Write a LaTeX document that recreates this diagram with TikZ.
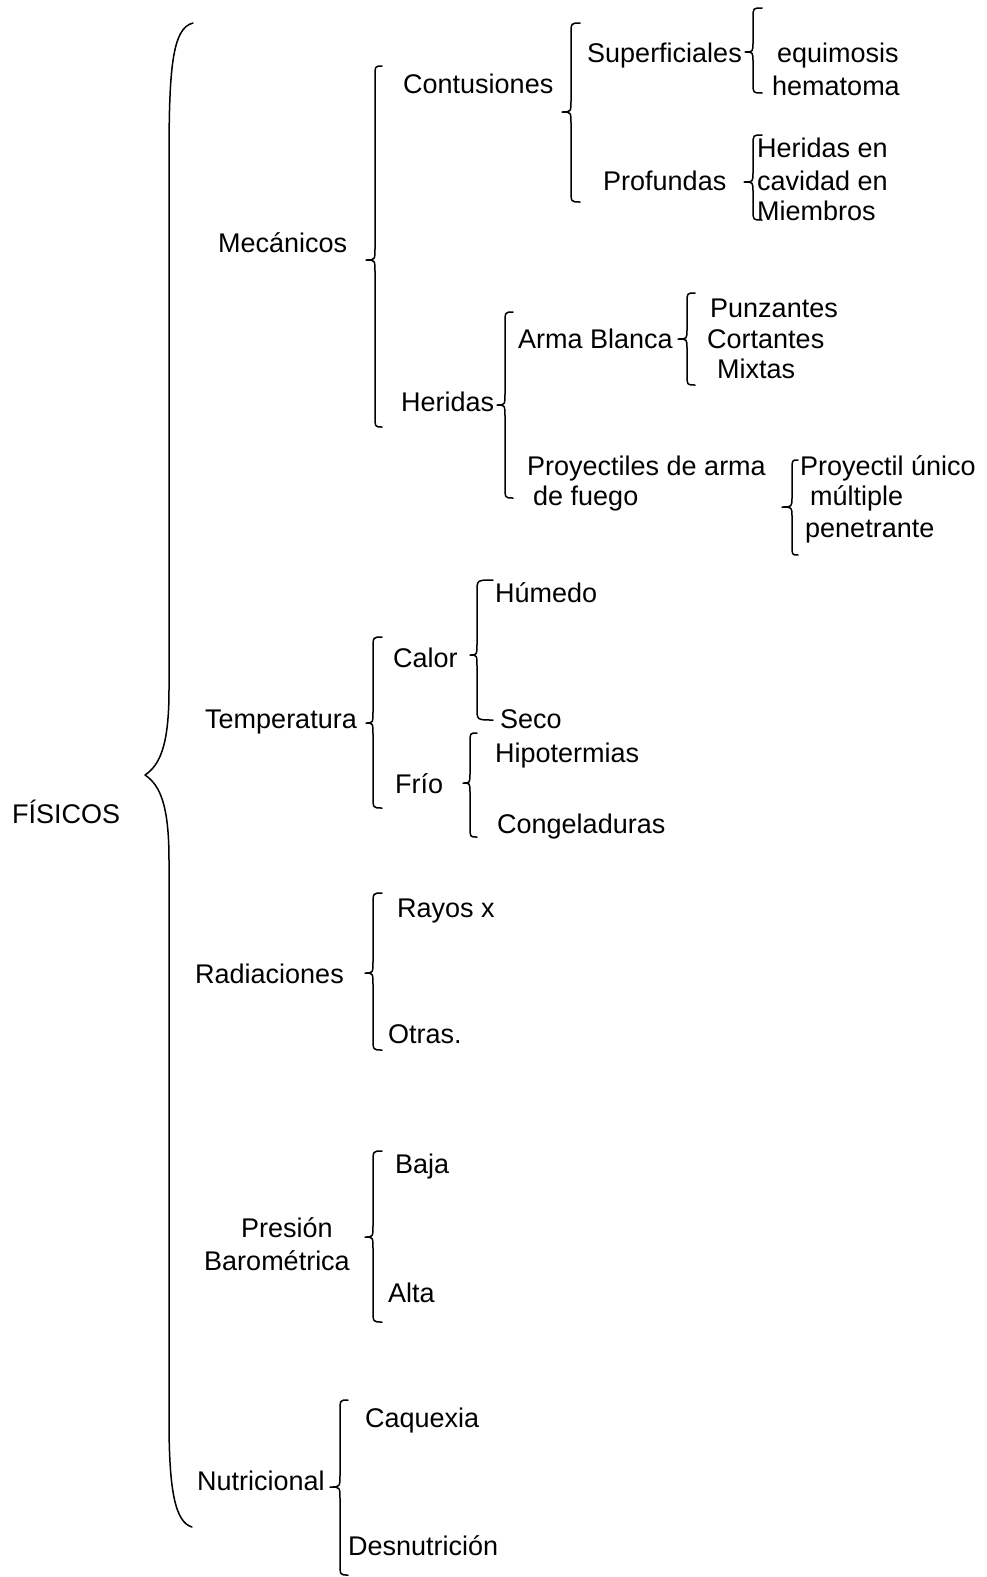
\documentclass[tikz,border=0pt]{standalone}
\usepackage{fontspec}
\setmainfont{Liberation Sans}
\tikzset{
  lbl/.style={anchor=base west, inner sep=0pt, font=\fontsize{27}{32}\selectfont},
  clbl/.style={anchor=base, inner sep=0pt, font=\fontsize{27}{32}\selectfont},
  bracestyle/.style={draw=black, line width=1.5pt, line join=round, line cap=round}
}
% #1 end x, #2 spine x, #3 tip x, #4 top y, #5 tip y, #6 bottom y, #7 radius
\newcommand{\mybrace}[7]{%
  \draw[bracestyle] (#1,#4) .. controls (#2,#4) .. (#2,{#4+#7})
    -- (#2,{#5-#7}) .. controls (#2,#5) .. (#3,#5)
    .. controls (#2,#5) .. (#2,{#5+#7})
    -- (#2,{#6-#7}) .. controls (#2,#6) .. (#1,#6);}
\begin{document}
\begin{tikzpicture}[x=1pt,y=-1pt]
\useasboundingbox (0,0) rectangle (987,1577);

% main brace
\coordinate (bt) at (193,23);
\coordinate (btip) at (145,775);
\coordinate (bb) at (192,1527);
\draw[bracestyle] (bt) .. controls (172,28) and (169,70) .. (169,160)
  -- (169,690) .. controls (169,745) and (160,765) .. (btip)
  .. controls (160,785) and (169,805) .. (169,860)
  -- (169,1420) .. controls (169,1490) and (175,1522) .. (bb);

% texts
\node[lbl] (fis) at (12,823) {FÍSICOS};
\node[lbl] (mec) at (218,252) {Mecánicos};
\node[lbl] (con) at (403,93) {Contusiones};
\node[lbl] (sup) at (587,62) {Superficiales};
\node[lbl] (equ) at (777,62) {equimosis};
\node[lbl] (hem) at (772,95) {hematoma};
\node[lbl] (pro) at (603,190) {Profundas};
\node[lbl] (he1) at (757,157) {Heridas en};
\node[lbl] (he2) at (757,190) {cavidad en};
\node[lbl] (he3) at (757,220) {Miembros};
\node[lbl] (her) at (401,411) {Heridas};
\node[lbl] (arm) at (518,348) {Arma Blanca};
\node[lbl] (pun) at (710,317) {Punzantes};
\node[lbl] (cor) at (707,348) {Cortantes};
\node[lbl] (mix) at (717,378) {Mixtas};
\node[lbl] (pr1) at (527,475) {Proyectiles de arma};
\node[lbl] (pr2) at (533,505) {de fuego};
\node[lbl] (pu1) at (800,475) {Proyectil único};
\node[lbl] (pu2) at (810,505) {múltiple};
\node[lbl] (pu3) at (805,537) {penetrante};
\node[lbl] (tem) at (205,728) {Temperatura};
\node[lbl] (cal) at (393,667) {Calor};
\node[lbl] (hum) at (495,602) {Húmedo};
\node[lbl] (sec) at (500,728) {Seco};
\node[lbl] (fri) at (395,793) {Frío};
\node[lbl] (hip) at (495,762) {Hipotermias};
\node[lbl] (cng) at (497,833) {Congeladuras};
\node[lbl] (rad) at (195,983) {Radiaciones};
\node[lbl] (ray) at (397,917) {Rayos x};
\node[lbl] (otr) at (388,1043) {Otras.};
\node[clbl] (pre) at (287,1237) {Presión};
\node[clbl] (bar) at (277,1270) {Barométrica};
\node[lbl] (baj) at (395,1173) {Baja};
\node[lbl] (alt) at (388,1302) {Alta};
\node[lbl] (nut) at (197,1490) {Nutricional};
\node[lbl] (caq) at (365,1427) {Caquexia};
\node[lbl] (des) at (348,1555) {Desnutrición};

% braces
\mybrace{382}{375}{366}{66}{260}{427}{12}
\mybrace{580}{571}{562}{23}{112}{202}{12}
\mybrace{762}{753}{745}{8}{52}{93}{10}
\mybrace{762}{753}{744}{135}{182}{220}{10}
\mybrace{513}{505}{497}{312}{405}{498}{12}
\mybrace{695}{687}{678}{293}{339}{385}{10}
\mybrace{798}{792}{782}{460}{507}{555}{10}
\mybrace{382}{373}{366}{637}{723}{808}{12}
\mybrace{493}{477}{470}{580}{655}{720}{12}
\mybrace{477}{470}{463}{733}{783}{837}{10}
\mybrace{382}{373}{365}{893}{973}{1050}{12}
\mybrace{382}{373}{365}{1151}{1237}{1322}{12}
\mybrace{348}{340}{330}{1400}{1487}{1575}{12}
\end{tikzpicture}
\end{document}
